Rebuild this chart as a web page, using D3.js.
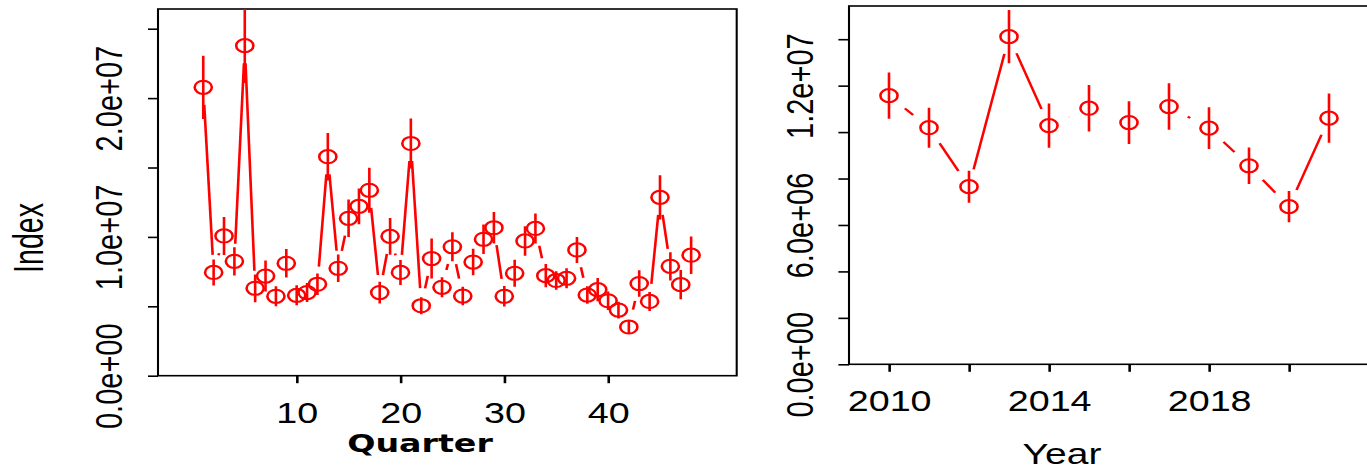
<!DOCTYPE html>
<html>
<head>
<meta charset="utf-8">
<script src="https://cdn.jsdelivr.net/npm/d3@7"></script>
<style>
  body { margin: 0; background: #fff; }
  text { font-family: "Liberation Sans", Arial, sans-serif; }
</style>
</head>
<body>
<div id="main"></div>
<script>

// quarterly index (left panel)
var quarters = [1, 2, 3, 4, 5, 6, 7, 8, 9, 10, 11, 12, 13, 14, 15, 16, 17, 18, 19, 20, 21, 22, 23, 24,
  25, 26, 27, 28, 29, 30, 31, 32, 33, 34, 35, 36, 37, 38, 39, 40, 41, 42, 43, 44, 45, 46, 47, 48];
var quarterIndex = [20780000, 7440000, 10070000, 8240000, 23780000, 6300000, 7180000, 5720000,
  8100000, 5790000, 5990000, 6590000, 15780000, 7740000, 11340000, 12200000, 13360000, 5990000,
  10040000, 7440000, 16730000, 5040000, 8440000, 6370000, 9290000, 5740000, 8190000, 9830000,
  10660000, 5720000, 7380000, 9710000, 10610000, 7210000, 6860000, 7020000, 9060000, 5810000,
  6200000, 5400000, 4730000, 3510000, 6640000, 5350000, 12850000, 7880000, 6560000, 8680000];
var quarterErr = [2280000, 940000, 1370000, 1020000, 2700000, 1000000, 1120000, 720000,
  1020000, 720000, 680000, 780000, 1710000, 990000, 1350000, 1280000, 1620000, 780000,
  1320000, 900000, 1800000, 610000, 1440000, 720000, 1040000, 660000, 960000, 1060000,
  1140000, 740000, 970000, 1060000, 1080000, 840000, 660000, 720000, 940000, 630000,
  840000, 660000, 600000, 460000, 960000, 680000, 1600000, 1020000, 1060000, 1350000];

// yearly index (right panel)
var years = [2010, 2011, 2012, 2013, 2014, 2015, 2016, 2017, 2018, 2019, 2020, 2021];
var yearIndex = [11570000, 10190000, 7650000, 14110000, 10280000, 11030000, 10410000,
  11100000, 10170000, 8550000, 6790000, 10600000];
var yearErr = [1000000, 860000, 690000, 1150000, 950000, 1000000, 920000, 1000000,
  900000, 790000, 670000, 1060000];

// ticks
var qTicks = [10, 20, 30, 40];
var qYTicks = [0, 5e6, 1e7, 1.5e7, 2e7, 2.5e7];
var qYLabels = [0, 1e7, 2e7];
var yrTicks = [2010, 2012, 2014, 2016, 2018, 2020];
var yrLabels = [2010, 2014, 2018];
var yrYTicks = [0, 2e6, 4e6, 6e6, 8e6, 1e7, 1.2e7, 1.4e7];
var yrYLabels = [0, 6e6, 1.2e7];

// the original picture is stretched sideways
var S = 1.3;
var red = '#ff0000';
var gap = 17.6, r = 6.6;

var svg = d3.select('#main')
  .append('svg')
  .attr('width', 1367)
  .attr('height', 472);

var root = svg.append('g')
  .attr('transform', 'scale(' + S + ',1)');

function sci(v) {
  var parts = v.toExponential(1).split('e');
  var e = parts[1];
  return parts[0] + 'e' + e[0] + e.slice(1).padStart(2, '0');
}

function panel(opt) {
  var x = opt.x, y = opt.y;
  var x0 = x.range()[0], x1 = x.range()[1];
  var y0 = y.range()[0], y1 = y.range()[1];

  root.append('clipPath').attr('id', opt.id)
    .append('rect')
    .attr('x', x0).attr('y', y1)
    .attr('width', x1 - x0).attr('height', y0 - y1);

  // y axis
  var ya = root.append('g')
    .attr('transform', 'translate(' + x0 + ',0)')
    .call(d3.axisLeft(y).tickValues(opt.yTicks).tickSizeOuter(0).tickSize(opt.yTick)
      .tickFormat(d => opt.yLabels.indexOf(d) >= 0 ? sci(d) : ''));
  ya.select('.domain').remove();
  ya.selectAll('line').attr('stroke', '#000').attr('stroke-width', 1.6);
  ya.selectAll('text')
    .attr('x', null).attr('dy', null)
    .attr('transform', 'translate(' + (-27.9) + ',0) rotate(-90)')
    .attr('text-anchor', 'middle')
    .attr('fill', '#000')
    .style('font-size', '29px')
    .style('font-family', '"Liberation Sans", Arial, sans-serif');

  // x axis
  var xa = root.append('g')
    .attr('transform', 'translate(0,' + y0 + ')')
    .call(d3.axisBottom(x).tickValues(opt.xTicks).tickSizeOuter(0).tickSize(7.5)
      .tickFormat(d => opt.xLabels.indexOf(d) >= 0 ? d : ''));
  xa.select('.domain').remove();
  xa.selectAll('line').attr('stroke', '#000').attr('stroke-width', 2);
  xa.selectAll('text')
    .attr('y', 47).attr('dy', null)
    .attr('fill', '#000')
    .style('font-size', '29px')
    .style('font-family', '"Liberation Sans", Arial, sans-serif');

  // box
  root.append('rect')
    .attr('x', x0).attr('y', y1)
    .attr('width', opt.boxRight - x0).attr('height', y0 - y1)
    .attr('fill', 'none')
    .attr('stroke', '#000')
    .attr('stroke-width', 1.6);

  var pts = opt.cats.map((c, i) => ({ x: x(c), y: y(opt.vals[i]), v: opt.vals[i], e: opt.errs[i] }));

  var g = root.append('g').attr('clip-path', 'url(#' + opt.id + ')');

  // connecting lines with gaps round each point (type "b")
  var segs = [];
  for (var i = 1; i < pts.length; i++) {
    var a = pts[i - 1], b = pts[i];
    var dx = b.x - a.x, dy = b.y - a.y, len = Math.hypot(dx, dy);
    if (len > 2 * gap) {
      segs.push({
        x1: a.x + dx / len * gap, y1: a.y + dy / len * gap,
        x2: b.x - dx / len * gap, y2: b.y - dy / len * gap
      });
    }
  }
  g.selectAll('.seg').data(segs).enter()
    .append('line')
    .attr('class', 'seg')
    .attr('x1', d => d.x1).attr('y1', d => d.y1)
    .attr('x2', d => d.x2).attr('y2', d => d.y2)
    .attr('stroke', red).attr('stroke-width', 2);

  // error bars
  g.selectAll('.err').data(pts).enter()
    .append('line')
    .attr('class', 'err')
    .attr('x1', d => d.x).attr('x2', d => d.x)
    .attr('y1', d => y(d.v + d.e)).attr('y2', d => y(d.v - d.e))
    .attr('stroke', red).attr('stroke-width', 2);

  g.selectAll('.pt').data(pts).enter()
    .append('circle')
    .attr('class', 'pt')
    .attr('cx', d => d.x).attr('cy', d => d.y)
    .attr('r', r)
    .attr('fill', 'none')
    .attr('stroke', red).attr('stroke-width', 2);
}

var xQ = d3.scaleLinear().domain([-3.36, 52.39]).range([158 / S, 736.7 / S]);
var yQ = d3.scaleLinear().domain([0, 26420000]).range([375.7, 9]);

panel({
  id: 'clipQ', x: xQ, y: yQ, cats: quarters, vals: quarterIndex, errs: quarterErr,
  xTicks: qTicks, xLabels: qTicks, yTicks: qYTicks, yLabels: qYLabels,
  yTick: 10 / S, boxRight: 736.7 / S
});

var xY = d3.scaleLinear().domain([2009, 2023]).range([849 / S, 1409 / S]);
var yY = d3.scaleLinear().domain([0, 15430000]).range([364.3, 6]);

panel({
  id: 'clipY', x: xY, y: yY, cats: years, vals: yearIndex, errs: yearErr,
  xTicks: yrTicks, xLabels: yrLabels, yTicks: yrYTicks, yLabels: yrYLabels,
  yTick: 10.6 / S, boxRight: 1409 / S
});

// axis titles
root.append('text')
  .attr('transform', 'translate(' + (43 / S) + ',238) scale(1.16,1) rotate(-90)')
  .attr('text-anchor', 'middle')
  .style('font-size', '28.6px')
  .text('Index');

root.append('text')
  .attr('x', 420 / S).attr('y', 451.7)
  .attr('text-anchor', 'middle')
  .style('font-family', '"DejaVu Sans", Verdana, sans-serif')
  .style('font-weight', 'bold')
  .style('font-size', '25.6px')
  .text('Quarter');

root.append('text')
  .attr('x', 1062 / S).attr('y', 464.5)
  .attr('text-anchor', 'middle')
  .style('font-size', '30px')
  .text('Year');

</script>
</body>
</html>
